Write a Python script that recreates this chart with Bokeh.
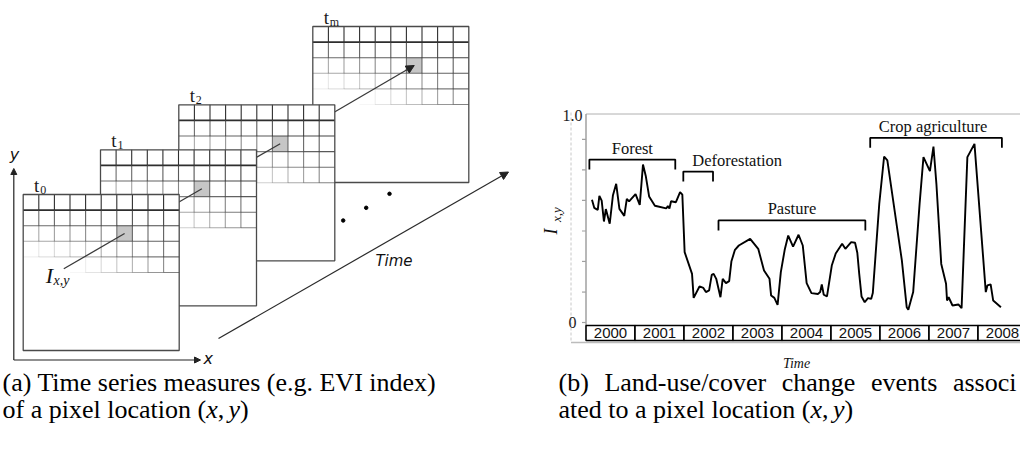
import numpy as np
from bokeh.plotting import figure
from bokeh.models import Range1d, Arrow, NormalHead, Grid
from bokeh.core.properties import value
from bokeh.embed import file_html
from bokeh.resources import INLINE

# ======================= DATA (panel b) =======================
obs_year = [
    2000.122, 2000.168, 2000.240, 2000.273, 2000.320, 2000.366, 2000.405, 2000.484,
    2000.550, 2000.616, 2000.682, 2000.781, 2000.833, 2000.879, 2001.011, 2001.097,
    2001.163, 2001.222, 2001.288, 2001.406, 2001.637, 2001.670, 2001.703, 2001.736,
    2001.835, 2001.920, 2001.966, 2002.013, 2002.164, 2002.197, 2002.316, 2002.395,
    2002.447, 2002.513, 2002.566, 2002.605, 2002.658, 2002.744, 2002.790, 2002.856,
    2002.922, 2002.968, 2003.040, 2003.119, 2003.350, 2003.515, 2003.633, 2003.745,
    2003.778, 2003.844, 2003.910, 2003.976, 2004.055, 2004.127, 2004.226, 2004.338,
    2004.424, 2004.503, 2004.601, 2004.733, 2004.779, 2004.812, 2004.852, 2004.918,
    2005.016, 2005.096, 2005.227, 2005.293, 2005.412, 2005.491, 2005.537, 2005.576,
    2005.623, 2005.688, 2005.754, 2005.820, 2005.853, 2005.985, 2006.084, 2006.150,
    2006.347, 2006.446, 2006.545, 2006.578, 2006.677, 2006.808, 2006.887, 2007.019,
    2007.091, 2007.151, 2007.250, 2007.348, 2007.368, 2007.401, 2007.480, 2007.599,
    2007.665, 2007.783, 2007.928, 2008.159, 2008.192, 2008.258, 2008.310, 2008.468,
]
obs_index = [
    0.593, 0.554, 0.544, 0.612, 0.589, 0.488, 0.548, 0.477,
    0.615, 0.670, 0.549, 0.515, 0.597, 0.585, 0.620, 0.568,
    0.763, 0.705, 0.609, 0.564, 0.551, 0.562, 0.551, 0.586,
    0.581, 0.630, 0.618, 0.340, 0.235, 0.119, 0.174, 0.167,
    0.147, 0.155, 0.230, 0.235, 0.211, 0.122, 0.211, 0.190,
    0.200, 0.296, 0.351, 0.372, 0.404, 0.356, 0.251, 0.211,
    0.130, 0.119, 0.085, 0.243, 0.351, 0.420, 0.367, 0.424,
    0.372, 0.190, 0.142, 0.138, 0.147, 0.184, 0.134, 0.126,
    0.275, 0.333, 0.380, 0.356, 0.388, 0.385, 0.337, 0.235,
    0.126, 0.098, 0.118, 0.114, 0.142, 0.573, 0.802, 0.783,
    0.461, 0.300, 0.074, 0.061, 0.147, 0.573, 0.799, 0.731,
    0.850, 0.670, 0.283, 0.187, 0.106, 0.122, 0.082, 0.087,
    0.069, 0.799, 0.863, 0.147, 0.179, 0.184, 0.106, 0.074,
]
year_starts = [2000, 2001, 2002, 2003, 2004, 2005, 2006, 2007, 2008]
year_labels = ["2000", "2001", "2002", "2003", "2004", "2005", "2006", "2007", "2008"]
event_names = ["Forest", "Deforestation", "Pasture", "Crop agriculture"]
event_start = [2000.069, 2001.986, 2002.704, 2005.800]
event_end = [2001.822, 2002.592, 2005.701, 2008.488]
y_tick_values = [0.0, 0.147, 0.295, 0.442, 0.590, 0.737, 0.885]
y_tick_labels = ["0", "1.0"]
y_tick_label_values = [0.0, 1.0]

frame_subscripts = ["0", "1", "2", "m"]

# ======================= LAYOUT =======================
W, H = 1020, 435
T0_X, PPY = 585.5, 49.0            # px of year 2000, px per year
V0_Y, PPV = 322.0, 207.0           # px of index 0, px per index unit
BOX_TOP, BOX_BOT = 325.0, 340.0

def v_of(py):
    return (V0_Y - py) / PPV

def t_of(px):
    return 2000 + (px - T0_X) / PPY

p = figure(width=W, height=H, x_range=Range1d(0, W), y_range=Range1d(H, 0),
           output_backend="svg", toolbar_location=None, min_border=0,
           x_axis_location=None, y_axis_location=None)
p.outline_line_color = None
p.background_fill_color = "white"
p.border_fill_color = "white"
p.center = [r for r in p.center if not isinstance(r, Grid)]
p.extra_x_ranges = {"t": Range1d(t_of(0), t_of(W))}
p.extra_y_ranges = {"v": Range1d(v_of(H), v_of(0))}

SERIF = value("Liberation Serif")
SANS = value("Liberation Sans")
DSANS = value("DejaVu Sans")

# ======================= PANEL (a) =======================
FRAMES = [(22.7, 194.0), (100.0, 149.3), (178.3, 104.3), (312.3, 26.0)]
SIZE, NCOL, NROW = 156.0, 10, 5
CELL = SIZE / NCOL
HC, HR = 6, 2
LABEL_PT = (63.3, 268.3)
GRID_COL, LINE_COL = "#2e2e2e", "#3a3a3a"

def fade(r, c):
    return max(0.0, min(1.0, 1.0 - r * (0.32 - 0.023 * c)))

def cell_center(k):
    L, T = FRAMES[k]
    return (L + (HC + 0.5) * CELL, T + (HR + 0.5) * CELL)

def draw_frame(L, T):
    p.quad(left=[L], right=[L + SIZE], top=[T], bottom=[T + SIZE], fill_color="white", line_color=None)
    p.quad(left=[L + HC * CELL], right=[L + (HC + 1) * CELL], top=[T + HR * CELL],
           bottom=[T + (HR + 1) * CELL], fill_color="#c6c6c6", line_color=None)
    x0, y0, x1, y1, al, lw = [], [], [], [], [], []
    for r in range(NROW):
        for c in range(1, NCOL):
            a = fade(r, c)
            if a > 0.02:
                x0.append(L + c * CELL); x1.append(L + c * CELL)
                y0.append(T + r * CELL); y1.append(T + (r + 1) * CELL)
                al.append(a); lw.append(1.1)
    for h in range(1, NROW + 1):
        for j in range(NCOL):
            a = fade(h - 1, j + 0.5)
            if a > 0.02:
                x0.append(L + j * CELL); x1.append(L + (j + 1) * CELL)
                y0.append(T + h * CELL); y1.append(T + h * CELL)
                al.append(a); lw.append(1.6 if h == 1 else 1.1)
    p.segment(x0=x0, y0=y0, x1=x1, y1=y1, line_color=GRID_COL, line_alpha=al, line_width=lw)
    p.quad(left=[L], right=[L + SIZE], top=[T], bottom=[T + SIZE], fill_color=None,
           line_color="#4a4a4a", line_width=1.3)

for k in [3, 2, 1, 0]:
    L, T = FRAMES[k]
    draw_frame(L, T)
    start = LABEL_PT if k == 0 else cell_center(k - 1)
    end = cell_center(k)
    p.segment(x0=[start[0]], y0=[start[1]], x1=[end[0]], y1=[end[1]], line_color=LINE_COL, line_width=1.3)

cs, ce = cell_center(2), cell_center(3)
d = np.hypot(ce[0] - cs[0], ce[1] - cs[1])
p.add_layout(Arrow(x_start=ce[0] - 10 * (ce[0] - cs[0]) / d, y_start=ce[1] - 10 * (ce[1] - cs[1]) / d,
                   x_end=ce[0], y_end=ce[1], line_color=LINE_COL, line_width=1.3,
                   end=NormalHead(size=8, fill_color="#222222", line_color="#222222", line_width=1)))

for (L, T), sub in zip(FRAMES, frame_subscripts):
    p.text(x=[L + 13.5], y=[T - 9.5], text=["t"], text_font=SERIF, text_font_size="19px",
           text_align="center", text_baseline="middle", text_color="#1a1a1a")
    p.text(x=[L + 17.0], y=[T - 5.0], text=[sub], text_font=SERIF, text_font_size="12px",
           text_align="left", text_baseline="middle", text_color="#1a1a1a")

p.add_layout(Arrow(x_start=13.3, y_start=359.5, x_end=13.3, y_end=168, line_color="#222222", line_width=1.2,
                   end=NormalHead(size=6, fill_color="#222222", line_color="#222222", line_width=1)))
p.add_layout(Arrow(x_start=13.3, y_start=359.5, x_end=200, y_end=359.5, line_color="#222222", line_width=1.2,
                   end=NormalHead(size=6, fill_color="#222222", line_color="#222222", line_width=1)))
p.add_layout(Arrow(x_start=218, y_start=338, x_end=508, y_end=171.5, line_color="#2a2a2a", line_width=1.2,
                   end=NormalHead(size=8, fill_color="#222222", line_color="#222222", line_width=1)))
p.scatter(x=[342.7, 365.7, 389.0], y=[220.0, 207.3, 193.3], size=3.5, color="black")

p.text(x=[14], y=[154], text=["y"], text_font=DSANS, text_font_style="italic", text_font_size="16px",
       text_align="center", text_baseline="middle", text_color="#111111")
p.text(x=[203], y=[358], text=["x"], text_font=DSANS, text_font_style="italic", text_font_size="16px",
       text_align="left", text_baseline="middle", text_color="#111111")
p.text(x=[393.5], y=[260], text=["Time"], text_font=DSANS, text_font_style="italic", text_font_size="15px",
       text_align="center", text_baseline="middle", text_color="#111111")
p.text(x=[49], y=[274.5], text=["I"], text_font=SERIF, text_font_style="italic", text_font_size="22px",
       text_align="center", text_baseline="middle", text_color="#111111")
p.text(x=[53], y=[280], text=["x,y"], text_font=SERIF, text_font_style="italic", text_font_size="14px",
       text_align="left", text_baseline="middle", text_color="#111111")

# ======================= PANEL (b) =======================
p.segment(x0=[585.5], y0=[113.5], x1=[W], y1=[113.5], line_color="#b0b0b0", line_width=1)
p.segment(x0=[570.5], y0=[112], x1=[570.5], y1=[342], line_color="#c8c8c8", line_width=1, line_dash="3 2")
p.segment(x0=[570.5], y0=[342], x1=[W], y1=[342], line_color="#bcbcbc", line_width=1.5)
p.segment(x0=[585.5], y0=[113.5], x1=[585.5], y1=[BOX_TOP], line_color="#a0a0a0", line_width=1.5)

RN = dict(x_range_name="t", y_range_name="v")
p.segment(x0=[2000 - 4 / PPY] * len(y_tick_values), x1=[2000] * len(y_tick_values),
          y0=y_tick_values, y1=y_tick_values, line_color="#a0a0a0", line_width=1.2, **RN)
p.text(x=[2000 - 9.5 / PPY, 2000 - 3.5 / PPY], y=y_tick_label_values, text=y_tick_labels,
       text_font=SERIF, text_font_size="16px", text_align="right", text_baseline="middle",
       text_color="#222222", **RN)

p.line(x=obs_year, y=obs_index, line_color="black", line_width=1.9, **RN)

LEVEL = [0.787, 0.729, 0.493, 0.892]
DEPTH = 10 / PPV
LIFT = 11.5 / PPV
xs = [[s, s, e, e] for s, e in zip(event_start, event_end)]
ys = [[l - DEPTH, l, l, l - DEPTH] for l in LEVEL]
p.multi_line(xs=xs, ys=ys, line_color="black", line_width=1.8, **RN)
lab_x = [(s + e) / 2 for s, e in zip(event_start, event_end)]
lab_x[1] = event_start[1] + 9 / PPY
lab_x[3] -= 3 / PPY
p.text(x=lab_x, y=[l + LIFT for l in LEVEL], text=event_names,
       text_align=["center", "left", "center", "center"], text_baseline="middle",
       text_font=SERIF, text_font_size="16.5px", text_color="#111111", **RN)

vt, vb = v_of(BOX_TOP), v_of(BOX_BOT)
p.quad(left=year_starts, right=[y + 1 for y in year_starts], top=vt, bottom=vb,
       fill_color="white", line_color="black", line_width=1.6, **RN)
p.text(x=[y + 0.5 for y in year_starts], y=[(vt + vb) / 2] * len(year_starts), text=year_labels,
       text_font=SANS, text_font_size="15px", text_align="center", text_baseline="middle",
       text_color="#111111", **RN)

p.text(x=[796], y=[363], text=["Time"], text_font=SERIF, text_font_style="italic", text_font_size="14px",
       text_align="center", text_baseline="middle", text_color="#111111")
p.text(x=[550], y=[231], text=["I"], angle=np.pi / 2, text_font=SERIF, text_font_style="italic",
       text_font_size="18px", text_align="center", text_baseline="middle", text_color="#111111")
p.text(x=[556], y=[214], text=["x,y"], angle=np.pi / 2, text_font=SERIF, text_font_style="italic",
       text_font_size="13px", text_align="center", text_baseline="middle", text_color="#111111")

# ======================= CAPTIONS =======================
TW = {' ': 250, '(': 333, ')': 333, ',': 250, '-': 333, '.': 250, '/': 278,
      'a': 444, 'b': 500, 'c': 444, 'd': 500, 'e': 444, 'f': 333, 'g': 500, 'h': 500, 'i': 278,
      'l': 278, 'm': 778, 'n': 500, 'o': 500, 'p': 500, 'r': 333, 's': 389, 't': 278, 'u': 500,
      'v': 500, 'x': 500, 'y': 500, 'E': 611, 'I': 333, 'L': 611, 'T': 611, 'V': 722}
TWI = {'x': 444, 'y': 444}
CAP = 26

def tw(s, italic=False):
    tab = TWI if italic else TW
    return sum(tab.get(ch, TW.get(ch, 500)) for ch in s) * CAP / 1000.0

def cap_text(x, y, s, italic=False):
    p.text(x=[x], y=[y], text=[s], text_font=SERIF, text_font_style="italic" if italic else "normal",
           text_font_size=f"{CAP}px", text_align="left", text_baseline="middle", text_color="black")

def math_xy(x, y):
    for piece, it, extra in [("(", False, 0), ("x", True, 0), (",", False, CAP / 6), ("y", True, 0), (")", False, 0)]:
        cap_text(x, y, piece, it)
        x += tw(piece, it) + extra

ML1, ML2 = 382, 409
cap_text(2, ML1, "(a) Time series measures (e.g. EVI index)")
s2 = "of a pixel location "
cap_text(2, ML2, s2)
math_xy(2 + tw(s2), ML2)

words = ["(b)", "Land-use/cover", "change", "events", "associ"]
xl, xr = 558, 1016
gap = (xr - xl - sum(tw(w) for w in words)) / (len(words) - 1)
xx = xl
for w in words:
    cap_text(xx, ML1, w)
    xx += tw(w) + gap
s4 = "ated to a pixel location "
cap_text(558, ML2, s4)
math_xy(558 + tw(s4), ML2)

open("out.html", "w").write(file_html(p, INLINE))
